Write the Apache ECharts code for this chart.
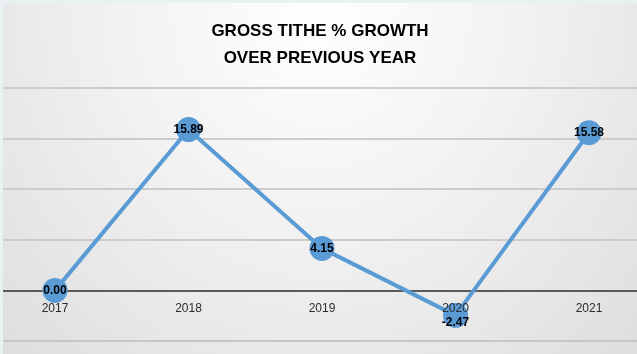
<!DOCTYPE html>
<html>
<head>
<meta charset="utf-8">
<script src="https://cdn.jsdelivr.net/npm/echarts@6/dist/echarts.min.js"></script>
<style>
html,body{margin:0;padding:0;width:637px;height:354px;overflow:hidden;background:#e9f1f4;}
#c{position:absolute;left:3px;top:3px;width:634px;height:351px;
background:radial-gradient(ellipse at 50% 0%, #ffffff 0%, #f2f2f2 45%, #dedede 100%);}
</style>
</head>
<body>
<div id="c"></div>
<script>
var titleLines = ['GROSS TITHE % GROWTH', 'OVER PREVIOUS YEAR'];
var categories = ['2017', '2018', '2019', '2020', '2021'];
var growth = [0.00, 15.89, 4.15, -2.47, 15.58];
var yMin = -5, yMax = 20, yStep = 5;

var gridTop = 85, gridBottom = 13, chartH = 351;
var zeroOffset = -Math.round((chartH - gridTop - gridBottom) * (0 - yMin) / (yMax - yMin));

var chart = echarts.init(document.getElementById('c'), null, {renderer: 'canvas'});
var seriesData = growth.map(function (v, i) {
  var d = {value: v};
  if (v < 0) d.label = {offset: [0, 7]};
  return d;
});
chart.setOption({
  backgroundColor: 'transparent',
  animation: false,
  title: {
    text: titleLines.join('\n'),
    left: 'center',
    top: 10,
    textStyle: {fontFamily: 'Liberation Sans', fontWeight: 'bold', fontSize: 17, color: '#000', lineHeight: 27}
  },
  grid: [
    {left: 52, right: 48, top: gridTop, bottom: gridBottom, containLabel: false, outerBoundsMode: 'none'},
    {left: 0, right: 0, top: gridTop, bottom: gridBottom, containLabel: false, outerBoundsMode: 'none'}
  ],
  xAxis: [
    {type: 'category', gridIndex: 0, data: categories, boundaryGap: false, position: 'bottom', offset: zeroOffset,
     axisLine: {show: false, onZero: false}, axisTick: {show: false},
     axisLabel: {fontFamily: 'Liberation Sans', fontSize: 12, color: '#2b2b2b', margin: 13},
     z: 6},
    {type: 'category', gridIndex: 1, data: categories, show: false}
  ],
  yAxis: [
    {type: 'value', gridIndex: 0, min: yMin, max: yMax, interval: yStep, show: false, splitLine: {show: false}},
    {type: 'value', gridIndex: 1, min: yMin, max: yMax, interval: yStep,
     axisLine: {show: false}, axisTick: {show: false}, axisLabel: {show: false},
     splitLine: {show: true, lineStyle: {width: 2, color: ['#c6c6c6', '#5a5a5a', '#cccccc', '#cccccc', '#cccccc', '#cccccc']}}}
  ],
  series: [{
    type: 'line',
    xAxisIndex: 0, yAxisIndex: 0,
    data: seriesData,
    symbol: 'circle',
    symbolSize: 25,
    lineStyle: {color: '#5b9bd5', width: 4},
    itemStyle: {color: '#5b9bd5'},
    label: {show: true, position: 'inside', fontFamily: 'Liberation Sans', fontWeight: 'bold', fontSize: 12, color: '#000',
            formatter: function (p) { return p.value.toFixed(2); }},
    z: 5
  }]
});
</script>
</body>
</html>
